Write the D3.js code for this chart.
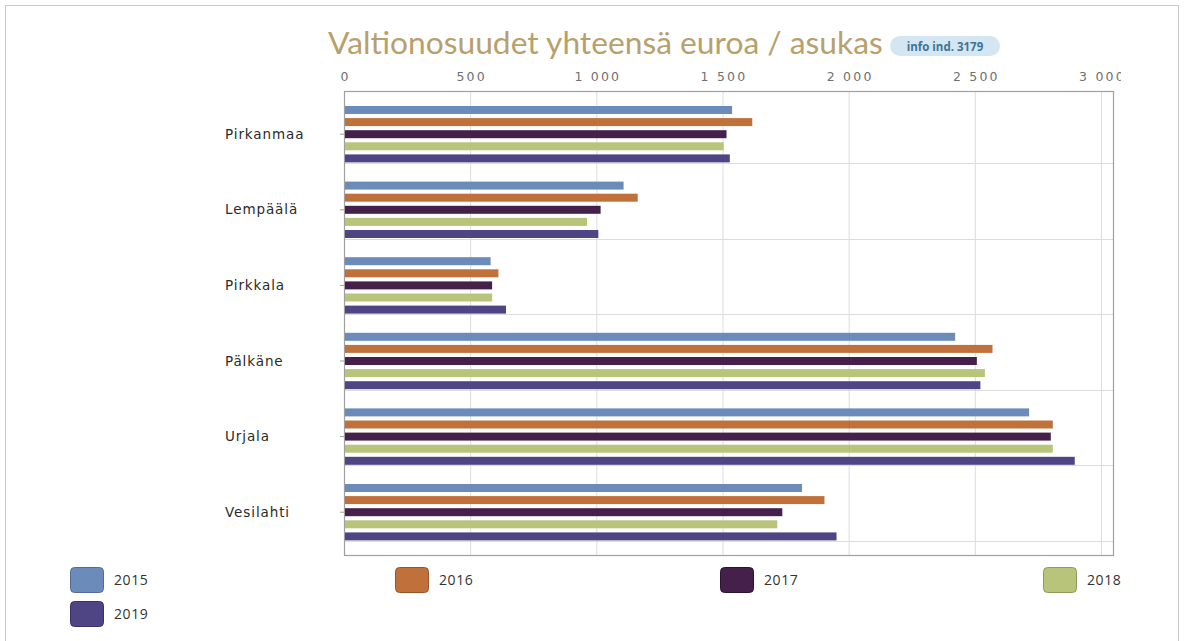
<!DOCTYPE html>
<html><head><meta charset="utf-8">
<script src="https://cdn.jsdelivr.net/npm/d3@7"></script>
<style>
html,body{margin:0;padding:0;background:#fff;}
svg{display:block;}
</style></head>
<body>
<svg id="chart" width="1184" height="641"></svg>
<script>
const categories = ["Pirkanmaa","Lempäälä","Pirkkala","Pälkäne","Urjala","Vesilahti"];
const years = ["2015","2016","2017","2018","2019"];
const v2015 = [1538, 1108, 581, 2422, 2715, 1815];
const v2016 = [1618, 1164, 612, 2570, 2809, 1904];
const v2017 = [1516, 1017, 587, 2508, 2801, 1737];
const v2018 = [1505,  963, 587, 2540, 2809, 1717];
const v2019 = [1529, 1008, 642, 2522, 2896, 1952];
const tickValues = [0, 500, 1000, 1500, 2000, 2500, 3000];
const colors = ["#6b8cba", "#c0703a", "#44204a", "#b8c47a", "#4f4585"];
const strokeColors = ["#4f6d96", "#965528", "#2a1230", "#8f9a5a", "#393068"];
const titleText = "Valtionosuudet yhteensä euroa / asukas";
const badgeText = "info ind. 3179";

const series = [v2015, v2016, v2017, v2018, v2019];

const svg = d3.select("#chart");

// outer border
svg.append("rect").attr("x", 5.5).attr("y", 5.5).attr("width", 1173).attr("height", 650)
  .attr("fill", "none").attr("stroke", "#c8c8c8");

const plot = {left: 344, right: 1113, top: 91, bottom: 555};
const x = d3.scaleLinear().domain([0, 3000]).range([344, 1101]);
const bandTop = 87.4, bandStep = 75.6;
const y = d3.scaleBand().domain(categories).range([bandTop, bandTop + bandStep * categories.length]).padding(0);
const yInner = d3.scaleBand().domain(years).range([18.6, 75]).paddingInner(0.34).paddingOuter(0);

// title
const title = svg.append("text").attr("x", 328).attr("y", 54)
  .attr("font-family", "Lato, 'Open Sans', sans-serif").attr("font-size", 26)
  .attr("fill", "#b8a06c").text(titleText);
const tw = title.node().getComputedTextLength();
title.attr("font-size", 26 * 555 / tw);

// badge
const badge = svg.append("g").attr("transform", "translate(890,36)");
badge.append("rect").attr("width", 110).attr("height", 20).attr("rx", 10).attr("fill", "#d3e6f2");
badge.append("text").attr("x", 55).attr("y", 14.5).attr("text-anchor", "middle")
  .attr("font-family", "'Open Sans', Lato, sans-serif").attr("font-size", 11.5).attr("font-weight", "bold")
  .attr("fill", "#3f7396").text(badgeText);

// gridlines vertical
svg.append("g").selectAll("line").data(tickValues.slice(1)).join("line")
  .attr("x1", d => x(d) + 0.5).attr("x2", d => x(d) + 0.5)
  .attr("y1", plot.top).attr("y2", plot.bottom)
  .attr("stroke", "#dcdcdc").attr("stroke-width", 1);

// gridlines horizontal (bottom of each band)
svg.append("g").selectAll("line").data(categories).join("line")
  .attr("x1", plot.left).attr("x2", plot.right)
  .attr("y1", d => Math.round(y(d) + bandStep) + 0.5).attr("y2", d => Math.round(y(d) + bandStep) + 0.5)
  .attr("stroke", "#dcdcdc").attr("stroke-width", 1);

// frame
svg.append("rect").attr("x", plot.left + 0.5).attr("y", plot.top + 0.5)
  .attr("width", plot.right - plot.left).attr("height", plot.bottom - plot.top)
  .attr("fill", "none").attr("stroke", "#a0a0a0").attr("stroke-width", 1.2);

// top axis labels with clip (clip coords are in the translated group's space)
svg.append("defs").append("clipPath").attr("id", "tickclip")
  .append("rect").attr("x", 300).attr("y", -30).attr("width", 821).attr("height", 36);
const axisTop = d3.axisTop(x).tickValues(tickValues).tickSize(0)
  .tickFormat(d => d3.format(",")(d).replace(/,/g, " "));
const ag = svg.append("g").attr("transform", "translate(0,84)").attr("clip-path", "url(#tickclip)").call(axisTop);
ag.select(".domain").remove();
ag.selectAll("text").attr("font-family", "'DejaVu Sans', Verdana, sans-serif").attr("font-size", 12.5)
  .attr("letter-spacing", 2.2).attr("fill", "#707070").attr("dx", 1);

// left ticks
svg.append("g").selectAll("line").data(categories).join("line")
  .attr("x1", plot.left - 4).attr("x2", plot.left)
  .attr("y1", d => y(d) + yInner("2017") + yInner.bandwidth() / 2)
  .attr("y2", d => y(d) + yInner("2017") + yInner.bandwidth() / 2)
  .attr("stroke", "#a0a0a0");

// bars
const rows = [];
categories.forEach((c, i) => years.forEach((yr, j) => rows.push({c, yr, j, v: series[j][i]})));
svg.append("g").selectAll("rect").data(rows).join("rect")
  .attr("x", plot.left + 1)
  .attr("y", d => y(d.c) + yInner(d.yr))
  .attr("width", d => x(d.v) - plot.left - 1)
  .attr("height", yInner.bandwidth())
  .attr("fill", d => colors[d.j]);

// category labels
svg.append("g").selectAll("text").data(categories).join("text")
  .attr("x", 225).attr("y", d => y(d) + yInner("2017") + yInner.bandwidth() / 2 + 4.5)
  .attr("font-family", "'DejaVu Sans', Verdana, sans-serif").attr("font-size", 13.5)
  .attr("letter-spacing", 0.9).attr("fill", "#2a2a2a").text(d => d);

// legend
const legPos = [[70, 567], [395, 567], [720, 567], [1043, 567], [70, 601]];
const leg = svg.append("g").selectAll("g").data(years).join("g")
  .attr("transform", (d, i) => `translate(${legPos[i][0]},${legPos[i][1]})`);
leg.append("rect").attr("x", 0.5).attr("y", 0.5).attr("width", 33).attr("height", 25).attr("rx", 4)
  .attr("fill", (d, i) => colors[i]).attr("stroke", (d, i) => strokeColors[i]).attr("stroke-width", 1);
leg.append("text").attr("x", 44).attr("y", 18).attr("font-family", "'Open Sans', sans-serif")
  .attr("font-size", 14).attr("letter-spacing", 0.6).attr("fill", "#333").text(d => d);
</script>
</body></html>
